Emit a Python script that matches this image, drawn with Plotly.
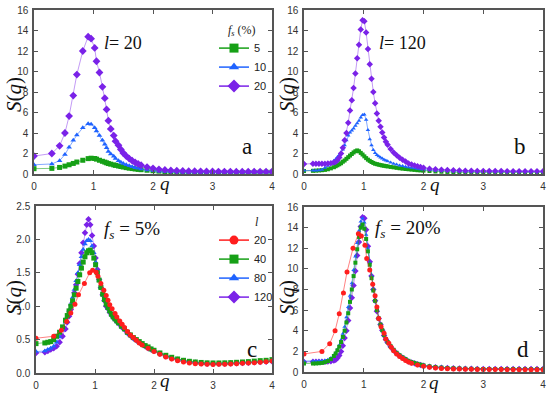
import plotly.graph_objects as go

# ---------------- data ----------------
# q grid for chain length l = 20
q20 = [0, 0.30, 0.43, 0.52, 0.59, 0.66, 0.72, 0.82, 0.91, 0.96,
       1.02, 1.05, 1.10, 1.15, 1.19, 1.22, 1.25, 1.29, 1.34, 1.37,
       1.42, 1.46, 1.50, 1.55, 1.60, 1.65, 1.70, 1.75, 1.80, 1.90, 2.0,
       2.1, 2.2, 2.3, 2.4, 2.5, 2.6, 2.7, 2.8, 2.9, 3.0,
       3.1, 3.2, 3.3, 3.4, 3.5, 3.6, 3.7, 3.8, 3.9, 4.0]
# q grid for chain lengths l = 40, 80, 120
qd = [0, 0.15, 0.20, 0.25, 0.30, 0.35, 0.40, 0.45, 0.50,
      0.53, 0.56, 0.59, 0.62, 0.65, 0.68, 0.71, 0.74, 0.77, 0.80,
      0.83, 0.86, 0.89, 0.92, 0.95, 0.98, 1.01, 1.04, 1.07, 1.10,
      1.13, 1.16, 1.19, 1.22, 1.25, 1.28, 1.31, 1.34, 1.37, 1.40,
      1.45, 1.50, 1.55, 1.60, 1.65, 1.70, 1.75, 1.80, 1.85, 1.90, 1.95, 2.0,
      2.1, 2.2, 2.3, 2.4, 2.5, 2.6, 2.7, 2.8, 2.9, 3.0,
      3.1, 3.2, 3.3, 3.4, 3.5, 3.6, 3.7, 3.8, 3.9, 4.0]

S_l20_f5 = [0.52, 0.55, 0.64, 0.77, 0.90, 1.03, 1.17, 1.34, 1.50, 1.54,
            1.51, 1.45, 1.34, 1.24, 1.16, 1.09, 1.02, 0.96, 0.89, 0.84,
            0.78, 0.73, 0.68, 0.62, 0.57, 0.53, 0.49, 0.45, 0.42, 0.37, 0.32,
            0.28, 0.24, 0.21, 0.185, 0.165, 0.15, 0.14, 0.133, 0.13, 0.128,
            0.13, 0.132, 0.135, 0.14, 0.145, 0.15, 0.155, 0.162, 0.17, 0.178]
S_l20_f10 = [0.90, 0.98, 1.30, 1.90, 2.60, 3.30, 3.80, 4.50, 4.90, 4.85,
             4.50, 4.20, 3.75, 3.30, 2.90, 2.55, 2.20, 1.95, 1.72, 1.50,
             1.30, 1.15, 1.02, 0.90, 0.80, 0.70, 0.62, 0.55, 0.49, 0.40, 0.33,
             0.28, 0.24, 0.21, 0.19, 0.18, 0.17, 0.165, 0.16, 0.16, 0.16,
             0.16, 0.16, 0.165, 0.165, 0.17, 0.17, 0.17, 0.175, 0.175, 0.18]
S_l20_f20 = [1.75, 2.00, 2.75, 4.00, 5.65, 7.65, 9.70, 12.0, 13.4, 13.2,
             12.3, 11.0, 9.9, 8.5, 7.4, 6.3, 5.2, 4.4, 3.75, 3.2,
             2.8, 2.4, 2.05, 1.75, 1.5, 1.3, 1.12, 0.98, 0.86, 0.68, 0.55,
             0.46, 0.40, 0.35, 0.32, 0.30, 0.28, 0.27, 0.26, 0.25, 0.25,
             0.24, 0.24, 0.24, 0.23, 0.23, 0.23, 0.23, 0.22, 0.22, 0.22]

S_l120_f5 = [0.30, 0.31, 0.33, 0.35, 0.37, 0.40, 0.46, 0.55, 0.66,
             0.76, 0.85, 0.95, 1.05, 1.20, 1.32, 1.48, 1.64, 1.80, 1.95,
             2.10, 2.22, 2.30, 2.22, 2.06, 1.90, 1.72, 1.55, 1.40, 1.28,
             1.17, 1.08, 1.00, 0.96, 0.91, 0.87, 0.83, 0.80, 0.77, 0.74,
             0.69, 0.65, 0.60, 0.56, 0.52, 0.49, 0.46, 0.43, 0.40, 0.37, 0.35, 0.33,
             0.29, 0.25, 0.22, 0.20, 0.18, 0.165, 0.155, 0.145, 0.14, 0.138,
             0.138, 0.14, 0.142, 0.145, 0.15, 0.155, 0.16, 0.165, 0.17, 0.175]
S_l120_f10 = [0.33, 0.33, 0.34, 0.36, 0.42, 0.60, 0.80, 1.00, 1.30,
              1.45, 1.65, 1.85, 2.05, 2.40, 2.80, 3.30, 3.75, 4.05, 4.25,
              4.45, 4.70, 4.95, 5.20, 5.50, 5.75, 5.80, 5.30, 4.30, 3.40,
              2.80, 2.35, 2.05, 1.85, 1.72, 1.60, 1.50, 1.40, 1.32, 1.24,
              1.12, 1.00, 0.92, 0.84, 0.77, 0.71, 0.65, 0.60, 0.55, 0.50, 0.46, 0.43,
              0.38, 0.34, 0.31, 0.29, 0.27, 0.26, 0.25, 0.24, 0.24, 0.23,
              0.23, 0.23, 0.22, 0.22, 0.22, 0.22, 0.22, 0.22, 0.22, 0.22]
S_l120_f20 = [0.98, 1.00, 1.00, 1.00, 1.00, 1.00, 1.02, 1.05, 1.12,
              1.20, 1.35, 1.60, 2.00, 2.55, 3.30, 4.00, 5.00, 6.20, 7.20,
              8.40, 9.80, 11.3, 12.6, 14.1, 15.0, 14.9, 13.8, 12.2, 10.7,
              9.3, 8.0, 6.9, 5.9, 5.2, 4.6, 4.05, 3.55, 3.15, 2.85,
              2.45, 2.10, 1.82, 1.58, 1.38, 1.22, 1.02, 0.92, 0.84, 0.76, 0.68, 0.60,
              0.52, 0.46, 0.42, 0.38, 0.36, 0.34, 0.32, 0.31, 0.30, 0.30,
              0.29, 0.29, 0.29, 0.28, 0.28, 0.28, 0.28, 0.28, 0.28, 0.28]

S_l80_f5 = [0.32, 0.33, 0.35, 0.37, 0.40, 0.46, 0.54, 0.64, 0.76,
            0.85, 0.94, 1.03, 1.13, 1.25, 1.38, 1.50, 1.62, 1.74, 1.85,
            1.93, 1.98, 2.00, 1.98, 1.90, 1.80, 1.66, 1.52, 1.39, 1.28,
            1.18, 1.10, 1.02, 0.97, 0.92, 0.87, 0.83, 0.80, 0.77, 0.74,
            0.69, 0.65, 0.60, 0.56, 0.52, 0.49, 0.46, 0.43, 0.40, 0.38, 0.35, 0.33,
            0.29, 0.255, 0.225, 0.20, 0.185, 0.17, 0.16, 0.15, 0.145, 0.142,
            0.142, 0.145, 0.148, 0.15, 0.155, 0.16, 0.165, 0.17, 0.175, 0.18]
S_l40_f5 = [0.44, 0.45, 0.46, 0.47, 0.50, 0.55, 0.61, 0.69, 0.79,
            0.86, 0.93, 1.00, 1.08, 1.17, 1.27, 1.37, 1.47, 1.57, 1.66,
            1.74, 1.80, 1.83, 1.84, 1.80, 1.72, 1.62, 1.50, 1.39, 1.28,
            1.18, 1.10, 1.03, 0.98, 0.93, 0.88, 0.84, 0.81, 0.78, 0.75,
            0.70, 0.66, 0.61, 0.57, 0.53, 0.50, 0.47, 0.44, 0.41, 0.39, 0.36, 0.34,
            0.30, 0.265, 0.235, 0.21, 0.19, 0.175, 0.165, 0.158, 0.152, 0.15,
            0.15, 0.152, 0.155, 0.16, 0.165, 0.17, 0.178, 0.185, 0.19, 0.20]
S_l80_f20 = [1.05, 1.05, 1.05, 1.06, 1.08, 1.12, 1.20, 1.35, 1.60,
             1.85, 2.20, 2.60, 3.10, 3.70, 4.40, 5.30, 6.30, 7.40, 8.60,
             9.90, 11.2, 12.5, 13.7, 14.6, 14.9, 14.5, 13.3, 12.0, 10.6,
             9.3, 8.1, 7.0, 6.1, 5.3, 4.65, 4.10, 3.60, 3.20, 2.90,
             2.50, 2.15, 1.86, 1.62, 1.42, 1.26, 1.08, 0.97, 0.88, 0.80, 0.72, 0.65,
             0.56, 0.49, 0.44, 0.40, 0.37, 0.35, 0.33, 0.32, 0.31, 0.30,
             0.30, 0.29, 0.29, 0.29, 0.28, 0.28, 0.28, 0.28, 0.28, 0.28]
S_l40_f20 = [0.82, 0.82, 0.83, 0.85, 0.88, 0.95, 1.06, 1.25, 1.55,
             1.80, 2.10, 2.45, 2.90, 3.40, 4.00, 4.80, 5.70, 6.80, 8.00,
             9.30, 10.6, 11.9, 13.1, 14.0, 14.3, 13.9, 12.9, 11.7, 10.4,
             9.1, 7.9, 6.9, 6.0, 5.2, 4.6, 4.05, 3.60, 3.20, 2.90,
             2.50, 2.15, 1.86, 1.62, 1.42, 1.25, 1.08, 0.96, 0.87, 0.79, 0.71, 0.64,
             0.55, 0.48, 0.43, 0.39, 0.36, 0.34, 0.32, 0.31, 0.30, 0.29,
             0.29, 0.28, 0.28, 0.28, 0.28, 0.27, 0.27, 0.27, 0.27, 0.27]

x_ticks = [0, 1, 2, 3, 4]
fs_labels = ["5", "10", "20"]
l_labels = ["20", "40", "80", "120"]

# ---------------- styles ----------------
GREEN = "#16a016"
BLUE = "#1f63ff"
PURPLE = "#7a22e8"
RED = "#ff1e1e"
LGREEN = "rgba(22,160,22,0.55)"
LBLUE = "rgba(31,99,255,0.55)"
LPURPLE = "rgba(122,34,232,0.45)"
LRED = "rgba(255,30,30,0.55)"

W, H = 550, 397
def px(x):
    return x / W
def py(y):
    return 1 - y / H

fig = go.Figure()

def add(q, s, color, lcolor, symbol, ax, size=5):
    fig.add_trace(go.Scatter(
        x=q, y=s, mode="lines+markers",
        xaxis="x" + ax, yaxis="y" + ax,
        line=dict(color=lcolor, width=1),
        marker=dict(color=color, symbol=symbol, size=size, line=dict(width=0)),
        showlegend=False,
    ))

def key(name, color, lcolor, symbol, legend, ax, size=9):
    # legend-only entry (no data points)
    fig.add_trace(go.Scatter(
        x=[None], y=[None], mode="lines+markers", name=name,
        xaxis="x" + ax, yaxis="y" + ax,
        line=dict(color=lcolor, width=1.5),
        marker=dict(color=color, symbol=symbol, size=size, line=dict(width=0)),
        showlegend=True, legend=legend,
    ))

# panel a (l = 20)
add(q20, S_l20_f5, GREEN, LGREEN, "square", "", 5)
add(q20, S_l20_f10, BLUE, LBLUE, "triangle-up", "", 5)
add(q20, S_l20_f20, PURPLE, LPURPLE, "diamond", "", 6)
key(fs_labels[0], GREEN, GREEN, "square", "legend", "", 9)
key(fs_labels[1], BLUE, BLUE, "triangle-up", "legend", "", 9)
key(fs_labels[2], PURPLE, PURPLE, "diamond", "legend", "", 10)
# panel b (l = 120)
add(qd, S_l120_f5, GREEN, LGREEN, "square", "2", 4)
add(qd, S_l120_f10, BLUE, LBLUE, "triangle-up", "2", 4)
add(qd, S_l120_f20, PURPLE, LPURPLE, "diamond", "2", 5)
# panel c (fs = 5%)
add(qd, S_l120_f5, PURPLE, LPURPLE, "diamond", "3", 5)
add(qd, S_l80_f5, BLUE, LBLUE, "triangle-up", "3", 5)
add(qd, S_l40_f5, GREEN, LGREEN, "square", "3", 5)
add(q20, S_l20_f5, RED, LRED, "circle", "3", 5)
key(l_labels[0], RED, RED, "circle", "legend2", "3", 9)
key(l_labels[1], GREEN, GREEN, "square", "legend2", "3", 9)
key(l_labels[2], BLUE, BLUE, "triangle-up", "legend2", "3", 9)
key(l_labels[3], PURPLE, PURPLE, "diamond", "legend2", "3", 10)
# panel d (fs = 20%)
add(qd, S_l120_f20, PURPLE, LPURPLE, "diamond", "4", 5)
add(qd, S_l80_f20, BLUE, LBLUE, "triangle-up", "4", 4)
add(qd, S_l40_f20, GREEN, LGREEN, "square", "4", 4)
add(q20, S_l20_f20, RED, LRED, "circle", "4", 5)

axis_common = dict(showline=True, linecolor="#555555", linewidth=1.5, mirror="ticks",
                   ticks="inside", ticklen=4, tickcolor="#555555", tickwidth=1,
                   showgrid=False, zeroline=False, automargin=False,
                   tickfont=dict(family="Liberation Sans, Arial", size=10, color="#333333"))

def xax(x0, x1, anchor):
    return dict(axis_common, domain=[px(x0), px(x1)], range=[0, 4], tickvals=x_ticks,
                anchor=anchor, ticklabelstandoff=2)

def yax(y_top, y_bot, rng, dtick, fmt, anchor):
    return dict(axis_common, domain=[py(y_bot), py(y_top)], range=rng, dtick=dtick,
                tickformat=fmt, anchor=anchor, ticklabelstandoff=2)

fig.update_layout(
    xaxis=xax(34, 272, "y"),
    yaxis=yax(10, 174, [0, 16], 2, "d", "x"),
    xaxis2=xax(304, 543, "y2"),
    yaxis2=yax(10, 174, [0, 16], 2, "d", "x2"),
    xaxis3=xax(36, 272, "y3"),
    yaxis3=yax(206, 373, [0, 2.5], 0.5, ".1f", "x3"),
    xaxis4=xax(304, 543, "y4"),
    yaxis4=yax(207, 372, [0, 16], 2, "d", "x4"),
)

legend_font = dict(family="Liberation Sans, Arial", size=11, color="#222222")
fig.update_layout(
    legend=dict(x=px(214), y=py(18), xanchor="left", yanchor="top",
                bgcolor="rgba(0,0,0,0)", font=legend_font, itemwidth=30,
                title=dict(text="    <i>f<sub>s</sub></i> (%)", side="top",
                           font=dict(family="Liberation Serif", size=12, color="#222"))),
    legend2=dict(x=px(214), y=py(210), xanchor="left", yanchor="top",
                 bgcolor="rgba(0,0,0,0)", font=legend_font,
                 itemwidth=30,
                 title=dict(text="             <i>l</i>", side="top",
                            font=dict(family="Liberation Serif", size=12, color="#222"))),
)

serif = "Liberation Serif, Times New Roman"
ann = []
def text(x, y, t, size, xanchor="center", **kw):
    ann.append(dict(x=px(x), y=py(y), xref="paper", yref="paper", text=t, showarrow=False,
                    xanchor=xanchor, yanchor="middle",
                    font=dict(family=serif, size=size, color="#111"), **kw))

# y titles
for yc in (95, 298):
    text(14, yc, "<i>S</i>(<i>q</i>)", 21, textangle=-90)
    text(287, yc, "<i>S</i>(<i>q</i>)", 21, textangle=-90)
# x titles q
text(165, 183, "<i>q</i>", 19)
text(435, 184, "<i>q</i>", 19)
text(165, 380, "<i>q</i>", 19)
text(434, 382, "<i>q</i>", 19)
# panel labels
text(102, 43, "<i>l</i>= 20", 18, xanchor="left")
text(377, 43, "<i>l</i>= 120", 18, xanchor="left")
text(102, 230, "<i>f<sub>s</sub></i> = 5%", 19, xanchor="left")
text(373, 229, "<i>f<sub>s</sub></i> = 20%", 19, xanchor="left")
text(247, 146, "a", 23)
text(520, 146, "b", 23)
text(252, 349, "c", 23)
text(523, 349, "d", 23)

fig.update_layout(annotations=ann, width=W, height=H,
                  margin=dict(l=0, r=0, t=0, b=0),
                  paper_bgcolor="white", plot_bgcolor="white")

fig.write_html("out.html", config={"displayModeBar": False},
               post_script="document.body.style.margin='0';")
